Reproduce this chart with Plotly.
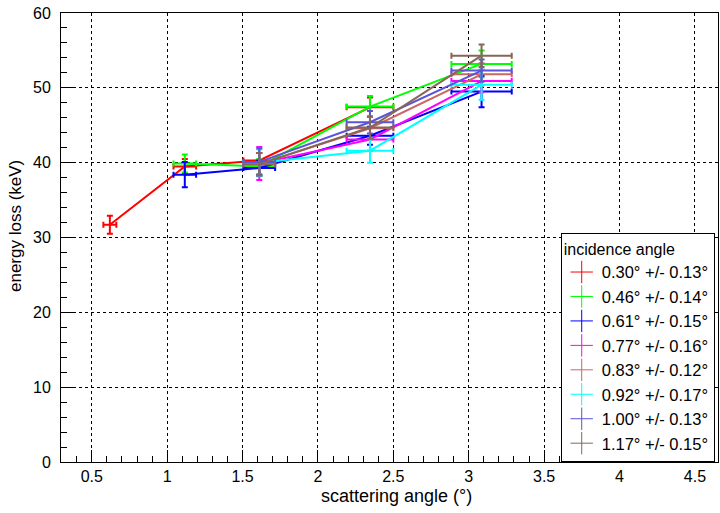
import plotly.graph_objects as go

FONT = "Liberation Sans, Arial, sans-serif"

labels = ["0.30° +/- 0.13°", "0.46° +/- 0.14°", "0.61° +/- 0.15°", "0.77° +/- 0.16°",
          "0.83° +/- 0.12°", "0.92° +/- 0.17°", "1.00° +/- 0.13°", "1.17° +/- 0.15°"]
colors = ["#ff0000", "#00ff00", "#0000ff", "#ff00ff", "#cc6666", "#00ffff", "#5954d9", "#876657"]

# scattering angle (deg), x errors, energy loss (keV), y errors, per incidence angle
x_red = [0.62, 1.117, 1.611, 2.345]
ex_red = [0.043, 0.075, 0.105, 0.155]
y_red = [31.7, 39.5, 40.3, 47.4]
ey_red = [1.2, 1.0, 1.0, 1.3]

x_green = [1.117, 1.611, 2.345, 3.085]
ex_green = [0.075, 0.105, 0.155, 0.2]
y_green = [39.9, 39.5, 47.5, 53.2]
ey_green = [1.2, 1.0, 1.4, 1.8]

x_blue = [1.117, 1.611, 2.345, 3.085]
ex_blue = [0.075, 0.105, 0.155, 0.2]
y_blue = [38.4, 39.3, 43.6, 49.5]
ey_blue = [1.7, 1.0, 1.2, 2.1]

x_mag = [1.611, 2.345, 3.085]
ex_mag = [0.105, 0.155, 0.2]
y_mag = [39.9, 43.1, 50.9]
ey_mag = [2.2, 1.5, 1.5]

x_sal = [1.611, 2.345, 3.085]
ex_sal = [0.105, 0.155, 0.2]
y_sal = [39.8, 44.6, 51.8]
ey_sal = [1.5, 1.5, 1.5]

x_cyan = [1.611, 2.345, 3.085]
ex_cyan = [0.105, 0.155, 0.2]
y_cyan = [40.0, 41.6, 50.4]
ey_cyan = [1.8, 1.6, 2.0]

x_slate = [1.611, 2.345, 3.085]
ex_slate = [0.105, 0.155, 0.2]
y_slate = [40.1, 45.4, 52.3]
ey_slate = [1.8, 1.5, 1.5]

x_brown = [1.611, 2.345, 3.085]
ex_brown = [0.105, 0.155, 0.2]
y_brown = [39.8, 44.7, 54.3]
ey_brown = [1.5, 1.5, 1.5]

series = [
    (x_red, ex_red, y_red, ey_red),
    (x_green, ex_green, y_green, ey_green),
    (x_blue, ex_blue, y_blue, ey_blue),
    (x_mag, ex_mag, y_mag, ey_mag),
    (x_sal, ex_sal, y_sal, ey_sal),
    (x_cyan, ex_cyan, y_cyan, ey_cyan),
    (x_slate, ex_slate, y_slate, ey_slate),
    (x_brown, ex_brown, y_brown, ey_brown),
]

fig = go.Figure()
for (xs, exs, ys, eys), c in zip(series, colors):
    fig.add_trace(go.Scatter(
        x=xs, y=ys, mode="lines", line=dict(color=c, width=2),
        error_x=dict(type="data", array=exs, visible=True, color=c, thickness=2, width=3),
        error_y=dict(type="data", array=eys, visible=True, color=c, thickness=2, width=3),
        showlegend=False, hoverinfo="skip"))

for i, (lab, c) in enumerate(zip(labels, colors)):
    fig.add_trace(go.Scatter(
        x=[None], y=[None], mode="markers", name=lab, legendgroup=str(i),
        marker=dict(symbol="cross-thin", size=16, color=c, line=dict(color=c, width=1))))

fig.update_layout(
    width=720, height=513,
    margin=dict(l=61, r=2, t=13, b=51),
    paper_bgcolor="white", plot_bgcolor="white",
    font=dict(family=FONT, size=16, color="black"),
    showlegend=True,
    legend=dict(
        x=0.7606, y=0.0, xanchor="left", yanchor="bottom",
        bgcolor="white", bordercolor="black", borderwidth=1,
        font=dict(family=FONT, size=16.5, color="black"),
        title=dict(text="incidence angle", font=dict(family=FONT, size=16)),
        tracegroupgap=0,
    ),
    annotations=[
        dict(text="scattering angle (°)", xref="paper", yref="paper",
             x=0.5099, y=-0.0757, xanchor="center", yanchor="middle",
             showarrow=False, font=dict(family=FONT, size=18, color="black")),
        dict(text="energy loss (keV)", xref="paper", yref="paper",
             x=-0.070, y=0.5256, xanchor="center", yanchor="middle", textangle=-90,
             showarrow=False, font=dict(family=FONT, size=17, color="black")),
    ],
)

fig.update_xaxes(
    range=[0.296, 4.653], dtick=0.5, tick0=0.5,
    showline=True, linecolor="black", linewidth=1, mirror=True,
    ticks="inside", ticklen=12, tickcolor="black",
    minor=dict(dtick=0.1, ticks="inside", ticklen=6, tickcolor="black", showgrid=False),
    showgrid=True, gridcolor="black", griddash="dot", gridwidth=1,
    zeroline=False, ticklabelstandoff=0,
    tickfont=dict(size=16),
)
fig.update_yaxes(
    range=[0, 60], dtick=10,
    showline=True, linecolor="black", linewidth=1, mirror=True,
    ticks="inside", ticklen=12, tickcolor="black",
    minor=dict(dtick=2, ticks="inside", ticklen=6, tickcolor="black", showgrid=False),
    showgrid=True, gridcolor="black", griddash="dot", gridwidth=1,
    zeroline=False, ticklabelstandoff=6,
    tickfont=dict(size=16),
)

fig.write_html("out.html")
